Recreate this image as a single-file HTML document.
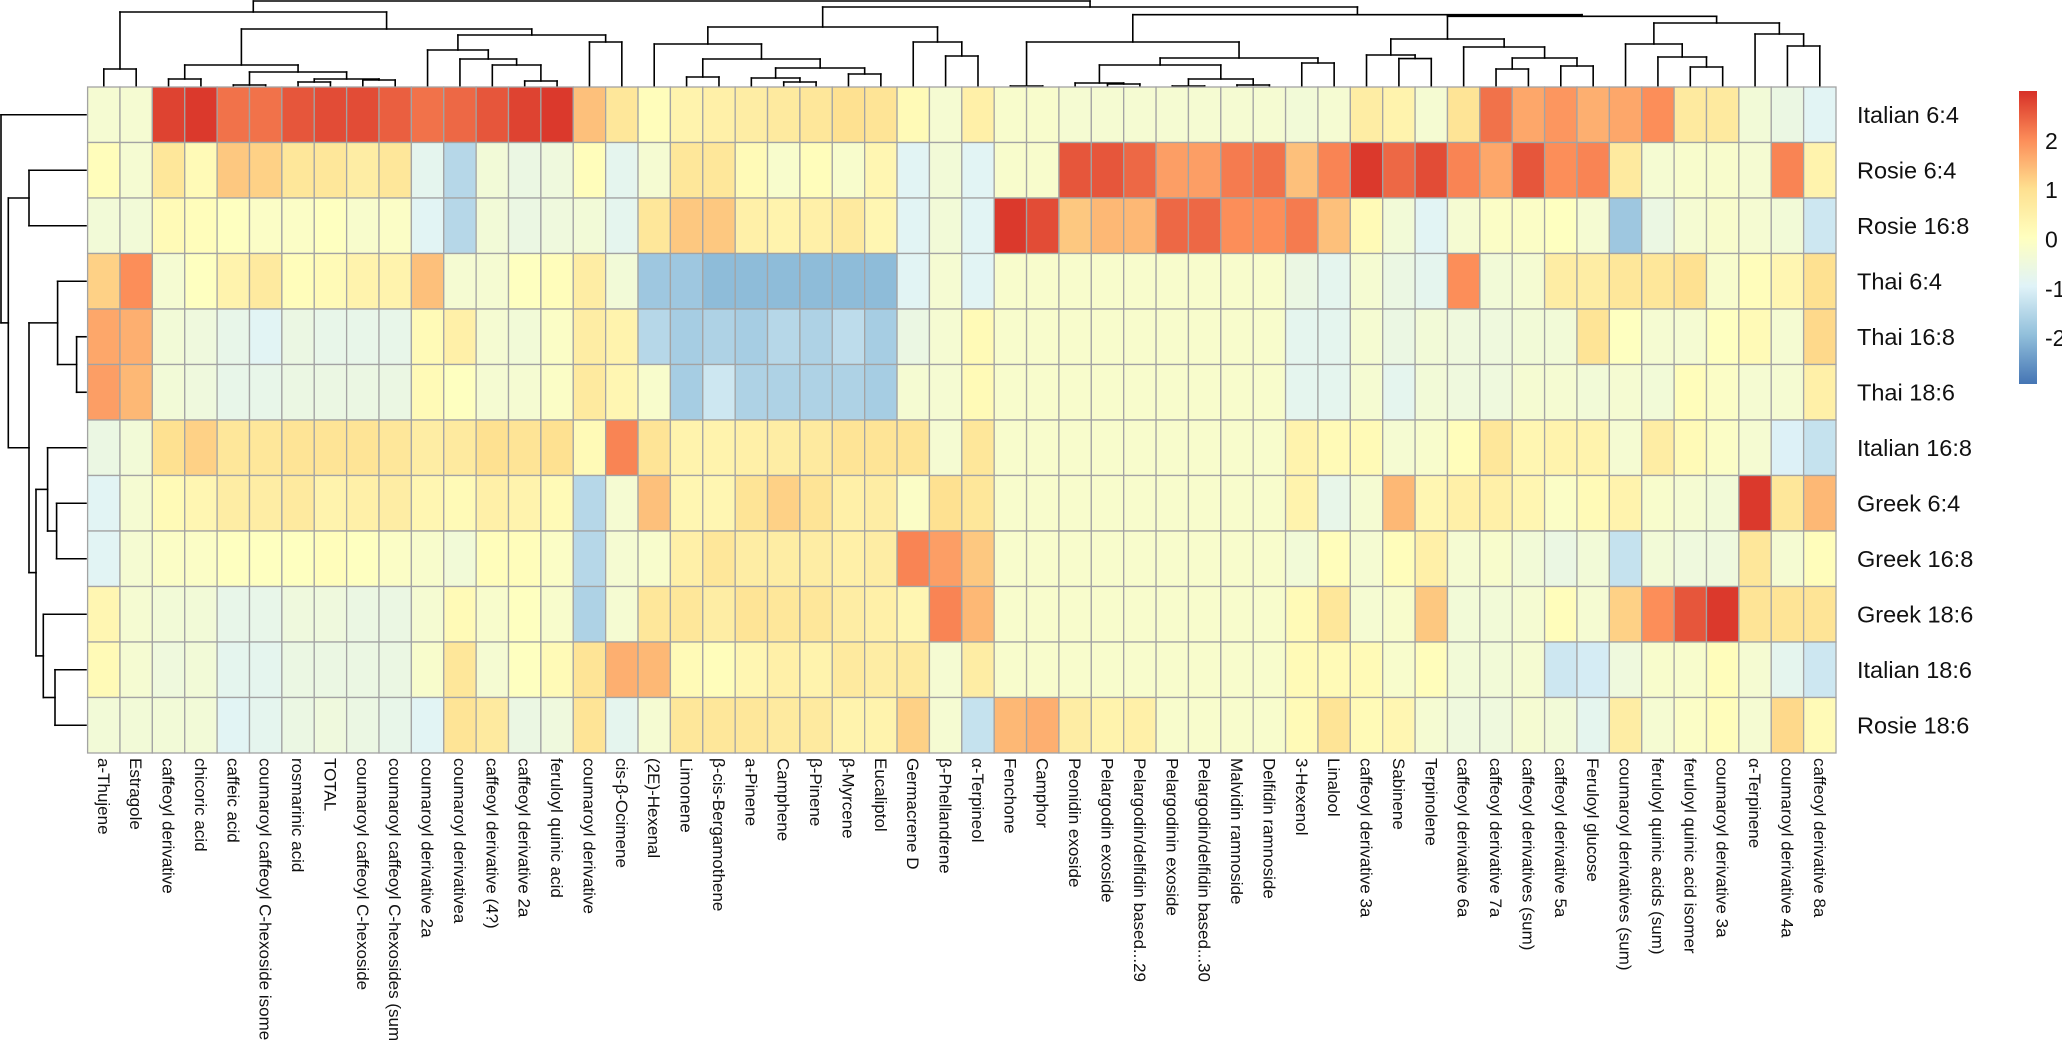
<!DOCTYPE html>
<html><head><meta charset="utf-8">
<style>
html,body{margin:0;padding:0;background:#fff;}
svg{display:block;}
.cl{font-family:"Liberation Sans",sans-serif;font-size:17px;fill:#111;}
.rl{font-family:"Liberation Sans",sans-serif;font-size:23.5px;fill:#111;}
.lg{font-family:"Liberation Sans",sans-serif;font-size:23px;fill:#111;}
</style></head>
<body>
<svg id="chart" width="2062" height="1041" viewBox="0 0 2062 1041" xmlns="http://www.w3.org/2000/svg">
<defs>
<linearGradient id="lgGrad" x1="0" y1="1" x2="0" y2="0">
<stop offset="0" stop-color="#4575B4"/><stop offset="0.1667" stop-color="#91BFDB"/><stop offset="0.3333" stop-color="#E0F3F8"/><stop offset="0.5" stop-color="#FFFFBF"/><stop offset="0.6667" stop-color="#FEE090"/><stop offset="0.8333" stop-color="#FC8D59"/><stop offset="1" stop-color="#D73027"/>
</linearGradient>
</defs>
<g id="topDendro"></g>
<g id="leftDendro"></g>
<g id="cells"></g>
<g id="colLabels"></g>
<g id="rowLabels"></g>
<g id="legend">
<rect x="2019" y="91" width="18" height="293" fill="url(#lgGrad)"/>
</g>
</svg>
<script>
const columns = ["a-Thujene","Estragole","caffeoyl derivative","chicoric acid","caffeic acid","coumaroyl caffeoyl C-hexoside isomer","rosmarinic acid","TOTAL","coumaroyl caffeoyl C-hexoside","coumaroyl caffeoyl C-hexosides (sum","coumaroyl derivative 2a","coumaroyl derivativea","caffeoyl derivative (4?)","caffeoyl derivative 2a","feruloyl quinic acid","coumaroyl derivative","cis-β-Ocimene","(2E)-Hexenal","Limonene","β-cis-Bergamothene","a-Pinene","Camphene","β-Pinene","β-Myrcene","Eucaliptol","Germacrene D","β-Phellandrene","α-Terpineol","Fenchone","Camphor","Peonidin exoside","Pelargodin exoside","Pelargodin/delfidin based...29","Pelargodinin exoside","Pelargodin/delfidin based...30","Malvidin ramnoside","Delfidin ramnoside","3-Hexenol","Linalool","caffeoyl derivative 3a","Sabinene","Terpinolene","caffeoyl derivative 6a","caffeoyl derivative 7a","caffeoyl derivatives (sum)","caffeoyl derivative 5a","Feruloyl glucose","coumaroyl derivatives (sum)","feruloyl quinic acids (sum)","feruloyl quinic acid isomer","coumaroyl derivative 3a","α-Terpinene","coumaroyl derivative 4a","caffeoyl derivative 8a"];
const rowsNames = ["Italian 6:4","Rosie 6:4","Rosie 16:8","Thai 6:4","Thai 16:8","Thai 18:6","Italian 16:8","Greek 6:4","Greek 16:8","Greek 18:6","Italian 18:6","Rosie 18:6"];
const legendTicks = [2,1,0,-1,-2];
const rItalian64 = [-0.3,-0.3,2.8,2.9,2.3,2.3,2.6,2.7,2.7,2.5,2.3,2.4,2.6,2.8,2.9,1.4,0.8,0.1,0.4,0.5, 0.6,0.7,0.8,1.0,0.9,0.2,-0.3,0.5,-0.2,-0.2,-0.3,-0.3,-0.3,-0.3,-0.3,-0.3,-0.3,-0.4,-0.3,0.6,0.4, -0.3,0.9,2.3,1.7,1.9,1.6,1.7,2.0,0.7,0.7,-0.4,-0.6,-0.9];
const rRosie64 = [0.1,-0.3,0.8,0.2,1.3,1.2,0.8,0.8,0.6,0.8,-0.8,-1.5,-0.4,-0.6,-0.5,0.1,-0.8,-0.3,0.8,0.8, 0.2,-0.2,0.1,-0.2,0.3,-0.9,-0.4,-0.9,-0.2,-0.2,2.6,2.6,2.4,1.8,1.8,2.2,2.3,1.4,2.1,2.9,2.4, 2.7,2.1,1.7,2.6,2.0,2.1,0.7,-0.3,-0.2,-0.2,-0.3,2.1,0.4];
const rRosie168 = [-0.4,-0.4,0.2,0.1,0,-0.1,-0.1,0,-0.2,-0.1,-0.9,-1.5,-0.4,-0.6,-0.5,-0.4,-0.8,0.8,1.3,1.3, 0.5,0.4,0.5,0.7,0.3,-0.9,-0.4,-0.9,2.9,2.7,1.3,1.5,1.5,2.4,2.4,2.0,2.0,2.2,1.4,0.2,-0.4, -0.9,-0.3,-0.1,-0.1,0,-0.3,-1.8,-0.6,-0.3,-0.2,-0.3,-0.4,-1.2];
const rThai64 = [1.2,2.0,-0.3,0,0.4,0.7,0.1,0.2,0.4,0.4,1.4,-0.3,-0.3,0,0.1,0.6,-0.4,-1.8,-1.8,-2.0, -2.0,-2.0,-2.0,-2.0,-2.0,-0.9,-0.3,-0.9,-0.2,-0.2,-0.2,-0.2,-0.2,-0.2,-0.2,-0.2,-0.2,-0.6,-0.8,-0.3,-0.6, -0.8,2.0,-0.4,-0.3,0.6,0.6,0.8,0.8,1.0,-0.2,0.1,0.3,1.0];
const rThai168 = [1.7,1.6,-0.4,-0.5,-0.7,-0.9,-0.6,-0.7,-0.7,-0.7,0.2,0.5,-0.3,-0.4,-0.1,0.6,0.4,-1.5,-1.7,-1.6, -1.7,-1.5,-1.6,-1.4,-1.7,-0.6,-0.3,0.2,-0.2,-0.2,-0.2,-0.2,-0.2,-0.2,-0.2,-0.2,-0.2,-0.8,-0.8,-0.3,-0.6, -0.4,-0.5,-0.5,-0.4,-0.4,0.9,0,-0.3,-0.3,0,0.2,-0.3,1.1];
const rThai186 = [1.8,1.5,-0.4,-0.5,-0.7,-0.7,-0.6,-0.6,-0.6,-0.6,0.2,0,-0.3,-0.3,-0.1,0.7,0.3,-0.2,-1.7,-1.2, -1.6,-1.6,-1.6,-1.6,-1.7,-0.3,-0.3,0.2,-0.2,-0.2,-0.2,-0.2,-0.2,-0.2,-0.2,-0.2,-0.2,-0.8,-0.8,-0.3,-0.8, -0.4,-0.5,-0.5,-0.3,-0.3,-0.4,-0.3,-0.4,0.1,-0.1,-0.3,-0.3,0.5];
const rItalian168 = [-0.6,-0.4,1.0,1.2,0.8,0.8,0.9,0.9,0.9,0.8,0.6,0.7,1.0,0.9,1.0,0.2,2.1,0.9,0.4,0.4, 0.5,0.6,0.7,0.9,0.9,0.9,-0.3,0.8,-0.2,-0.2,-0.2,-0.2,-0.2,-0.2,-0.2,-0.2,-0.2,0.4,0.2,0.2,-0.3, -0.2,0.1,0.8,0.3,0.4,0.4,-0.3,0.6,0.2,-0.1,-0.3,-1.0,-1.3];
const rGreek64 = [-0.9,-0.3,0.2,0.3,0.6,0.6,0.7,0.4,0.5,0.6,0.3,0.2,0.5,0.4,0.2,-1.5,-0.3,1.4,0.3,0.3, 0.9,1.2,0.9,0.5,0.6,-0.1,1.0,0.8,-0.2,-0.2,-0.2,-0.2,-0.2,-0.2,-0.2,-0.2,-0.2,0.4,-0.7,-0.3,1.5, 0.3,0.5,0.5,0.3,-0.1,0.2,0.4,-0.2,-0.3,-0.4,2.9,0.8,1.5];
const rGreek168 = [-0.9,-0.3,-0.1,-0.1,0,0,0,0.1,0,-0.1,-0.2,-0.4,0.1,0.1,-0.1,-1.5,-0.3,-0.2,0.5,0.8, 0.6,0.6,0.6,0.5,0.6,2.1,1.8,1.3,-0.2,-0.2,-0.2,-0.2,-0.2,-0.2,-0.2,-0.2,-0.2,-0.4,0.1,-0.3,0.1, 0.5,-0.3,-0.2,-0.4,-0.6,-0.4,-1.3,-0.4,-0.5,-0.5,0.8,-0.3,0.1];
const rGreek186 = [0.3,-0.3,-0.4,-0.4,-0.7,-0.7,-0.5,-0.5,-0.6,-0.6,-0.3,0.2,-0.2,0,-0.2,-1.6,-0.3,0.8,0.8,0.6, 0.9,0.8,0.8,0.6,0.5,0.3,2.1,1.5,-0.2,-0.2,-0.2,-0.2,-0.2,-0.2,-0.2,-0.2,-0.2,0.2,0.8,-0.3,-0.2, 1.3,-0.4,-0.4,-0.3,0.1,-0.3,1.2,2.0,2.6,2.9,0.9,0.9,0.9];
const rItalian186 = [0.2,-0.3,-0.5,-0.4,-0.8,-0.8,-0.6,-0.6,-0.6,-0.6,-0.2,0.8,-0.3,0,0.2,0.9,1.6,1.5,0.2,0.1, 0.3,0.5,0.4,0.7,0.6,0.7,-0.3,0.6,-0.2,-0.2,-0.2,-0.2,-0.2,-0.2,-0.2,-0.2,-0.2,0.2,0.2,0.2,-0.2, 0.1,-0.4,-0.4,-0.3,-1.2,-1.1,-0.5,-0.2,-0.2,0.1,-0.3,-0.8,-1.2];
const rRosie186 = [-0.4,-0.4,-0.4,-0.4,-0.9,-0.8,-0.6,-0.5,-0.6,-0.7,-0.9,0.9,0.7,-0.6,-0.5,0.9,-0.8,-0.3,0.8,0.8, 0.8,0.7,0.7,0.4,0.4,1.2,-0.3,-1.3,1.5,1.6,0.6,0.4,0.5,-0.2,-0.2,-0.2,-0.2,0.2,0.9,0.2,0.3, -0.3,-0.5,-0.5,-0.3,-0.4,-0.8,0.6,-0.3,-0.1,0.1,-0.3,1.1,0.2];
const matrix = [rItalian64,rRosie64,rRosie168,rThai64,rThai168,rThai186,rItalian168,rGreek64,rGreek168,rGreek186,rItalian186,rRosie186];

const GX0 = 87.6, GX1 = 1836, GY0 = 87, GY1 = 753;
const NS = "http://www.w3.org/2000/svg";
const cw = (GX1 - GX0) / columns.length;
const rh = (GY1 - GY0) / rowsNames.length;
function xScale(i){ return GX0 + i * cw; }
function yScale(j){ return GY0 + j * rh; }
const VMIN = -2.95, VMAX = 3.0;
const stops = ["#4575B4","#91BFDB","#E0F3F8","#FFFFBF","#FEE090","#FC8D59","#D73027"];
function hex(c){return [parseInt(c.slice(1,3),16),parseInt(c.slice(3,5),16),parseInt(c.slice(5,7),16)];}
function color(v){
  let t = (v - VMIN) / (VMAX - VMIN); t = Math.max(0, Math.min(1, t));
  const p = t * (stops.length - 1); const i = Math.min(stops.length - 2, Math.floor(p)); const f = p - i;
  const a = hex(stops[i]), b = hex(stops[i+1]);
  return "rgb(" + a.map((x,k)=>Math.round(x + (b[k]-x)*f)).join(",") + ")";
}
function mk(tag, attrs, parent){
  const e = document.createElementNS(NS, tag);
  for (const k in attrs) e.setAttribute(k, attrs[k]);
  parent.appendChild(e); return e;
}
const cells = document.getElementById("cells");
matrix.forEach((row, j) => {
  row.forEach((v, i) => {
    const r = mk("rect", {x: xScale(i), y: yScale(j), width: cw, height: rh, fill: color(v), stroke: "#a3a3a3", "stroke-width": 1.3}, cells);
    
    
  });
});
const colLabels = document.getElementById("colLabels");
columns.forEach((c, i) => {
  const cx = xScale(i) + cw/2 - 6, y = GY1 + 5;
  const t = mk("text", {x: cx, y: y, transform: "rotate(90 " + cx + " " + y + ")", class: "cl"}, colLabels);
  t.textContent = c;
  
  
});
const rowLabels = document.getElementById("rowLabels");
rowsNames.forEach((n, j) => {
  const t = mk("text", {x: 1857, y: yScale(j) + rh/2 + 8, class: "rl"}, rowLabels);
  t.textContent = n;
  
  
});
const legend = document.getElementById("legend");
legendTicks.forEach(v => {
  const y = 239.5 - v * 49.3;
  const t = mk("text", {x: 2045, y: y + 8, class: "lg"}, legend);
  t.textContent = String(v);
  
  
});

const colTree = [1,
  [12, [69,1,2],
       [29, [65,[79,3,4],[72,[85,5,6],[79,[82,7,8],[80,9,10]]]],
            [35, [50,11,[59,12,[65,13,[81,14,15]]]], [42,16,17]]]],
  [7,
    [27, [44,18,[59,[77,19,20],[68,[78,21,[82,22,23]],[74,24,25]]]], [42,26,[56,27,28]]],
    [14.7,
      [42,[86,29,30],[58,[65,[83,31,[84,32,33]],[79,[86,34,35],[85,36,37]]],[63,38,39]]],
      [16.3,
        [39,[55,40,[58.6,41,42]],[47,43,[58,[69,44,45],[66,46,47]]]],
        [23,[44,48,[57,49,[67,50,51]]],[34,52,[46,53,54]]]]]]];
const rowTree = [1,1,[8.3,[29,2,3],[29,[57.6,4,[76.6,5,6]],[36,[47.6,7,[56.6,8,9]],[43.3,10,[55,11,12]]]]]];

const topG = document.getElementById("topDendro");
function line(g, x1, y1, x2, y2){
  const l = mk("line", {x1:x1, y1:y1, x2:x2, y2:y2, stroke:"#000", "stroke-width":1.6, "stroke-linecap":"square"}, g);
  
  
}
function drawCol(n){
  if (typeof n === "number") return {p: xScale(n-1) + cw/2, h: 86};
  const a = drawCol(n[1]), b = drawCol(n[2]), h = n[0];
  line(topG, a.p, h, b.p, h);
  line(topG, a.p, h, a.p, a.h);
  line(topG, b.p, h, b.p, b.h);
  return {p: (a.p + b.p)/2, h: h};
}
drawCol(colTree);
const leftG = document.getElementById("leftDendro");
function drawRow(n){
  if (typeof n === "number") return {p: yScale(n-1) + rh/2, h: 86};
  const a = drawRow(n[1]), b = drawRow(n[2]), h = n[0];
  line(leftG, h, a.p, h, b.p);
  line(leftG, h, a.p, a.h, a.p);
  line(leftG, h, b.p, b.h, b.p);
  return {p: (a.p + b.p)/2, h: h};
}
drawRow(rowTree);
</script>
</body></html>
